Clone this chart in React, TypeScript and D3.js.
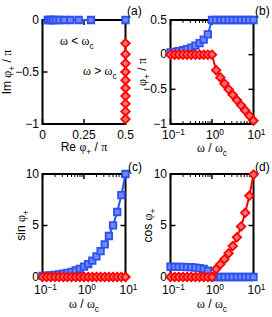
import { useEffect, useRef } from "react";
import * as d3 from "d3";

// sampled frequencies  omega / omega_c (10 per decade)
const omega = [0.1, 0.126, 0.158, 0.2, 0.251, 0.316, 0.398, 0.501, 0.631, 0.794, 1,
  1.259, 1.585, 1.995, 2.512, 3.162, 3.981, 5.012, 6.31, 7.943, 10];

// phi_+ / pi
const rePhi = [0.032, 0.04, 0.051, 0.064, 0.081, 0.102, 0.13, 0.167, 0.218, 0.292, 0.5,
  0.5, 0.5, 0.5, 0.5, 0.5, 0.5, 0.5, 0.5, 0.5, 0.5];
const imPhi = [0, 0, 0, 0, 0, 0, 0, 0, 0, 0, 0,
  -0.224, -0.329, -0.418, -0.5, -0.579, -0.655, -0.731, -0.805, -0.879, -0.953];

// sin phi_+
const reSin = [0.1, 0.126, 0.158, 0.2, 0.251, 0.316, 0.398, 0.501, 0.631, 0.794, 1,
  1.259, 1.585, 1.995, 2.512, 3.162, 3.981, 5.012, 6.31, 7.943, 10];
const imSin = [0, 0, 0, 0, 0, 0, 0, 0, 0, 0, 0, 0, 0, 0, 0, 0, 0, 0, 0, 0, 0];

// cos phi_+
const reCos = [0.995, 0.992, 0.987, 0.98, 0.968, 0.949, 0.917, 0.865, 0.776, 0.608, 0,
  0, 0, 0, 0, 0, 0, 0, 0, 0, 0];
const imCos = [0, 0, 0, 0, 0, 0, 0, 0, 0, 0, 0,
  0.765, 1.23, 1.727, 2.304, 3.0, 3.854, 4.911, 6.23, 7.88, 9.95];

const reTicks = [0, 0.25, 0.5];
const reTickLabels = ["0", "0.25", "0.5"];
const imTicks = [-1, -0.5, 0];
const imTickLabels = ["\u22121", "\u22120.5", "0"];
const phiTicks = [-1, -0.5, 0, 0.5];
const phiTickLabels = ["\u22121", "\u22120.5", "0", "0.5"];
const trigTicks = [0, 5, 10];
const trigTickLabels = ["0", "5", "10"];
const decades = [0.1, 1, 10];
const decadeExps = ["\u22121", "0", "1"];
const minorLog = [0.2, 0.3, 0.4, 0.5, 0.6, 0.7, 0.8, 0.9, 2, 3, 4, 5, 6, 7, 8, 9];

const SANS = "'Liberation Sans', Arial, sans-serif";
const SERIF = "'Liberation Serif', 'Times New Roman', serif";
const BLUE = "#2d50f2";
const RED = "#ff0000";

type Part = { t: string; g?: boolean; sub?: boolean; sup?: boolean };

function addText(sel: any, parts: Part[], x: number, y: number, size: number, anchor = "middle", rotate = false) {
  const t = sel.append("text")
    .attr("font-size", size)
    .attr("font-family", SANS)
    .attr("text-anchor", anchor)
    .attr("fill", "#000");
  if (rotate) t.attr("transform", `translate(${x},${y}) rotate(-90)`);
  else t.attr("x", x).attr("y", y);
  let shift = 0;
  parts.forEach((p) => {
    const target = p.sub ? size * 0.35 : p.sup ? -size * 0.3 : 0;
    const ts = t.append("tspan").attr("dy", target - shift).text(p.t);
    shift = target;
    if (p.g) ts.attr("font-family", SERIF);
    if (p.sub || p.sup) ts.attr("font-size", size * 0.7);
  });
  return t;
}

const omegaTitle: Part[] = [{ t: "\u03c9", g: true }, { t: " / " }, { t: "\u03c9", g: true }, { t: "c", sub: true }];

const App = () => {
  const ref = useRef<SVGSVGElement>(null);

  useEffect(() => {
    const svg = d3.select(ref.current);
    svg.selectAll("*").remove();

    const panels = [
      {
        x0: 42.5, x1: 125.5, y0: 20, y1: 124, log: false, labOff: 14.5, titleOff: 27,
        xDomain: [0, 0.5], yDomain: [-1, 0],
        yTicks: imTicks, yLabels: imTickLabels,
        series: [
          { xs: rePhi.slice(0, 10), ys: imPhi.slice(0, 10), color: BLUE, shape: "square", extra: [[rePhi[10], imPhi[10]]] },
          { xs: rePhi.slice(11), ys: imPhi.slice(11), color: RED, shape: "diamond", extra: [] },
        ],
        xTitle: [{ t: "Re " }, { t: "\u03c6", g: true }, { t: "+", sub: true }, { t: " / " }, { t: "\u03c0", g: true }] as Part[],
        yTitle: [{ t: "Im " }, { t: "\u03c6", g: true }, { t: "+", sub: true }, { t: " / " }, { t: "\u03c0", g: true }] as Part[],
        yTitleX: 11, tag: "(a)", tagX: 127, tagY: 15,
      },
      {
        x0: 170.5, x1: 253.5, y0: 20, y1: 124, log: true, labOff: 14.5, titleOff: 28,
        xDomain: [0.1, 10], yDomain: [-1, 0.5],
        yTicks: phiTicks, yLabels: phiTickLabels,
        series: [
          { xs: omega, ys: rePhi, color: BLUE, shape: "square", extra: [] },
          { xs: omega, ys: imPhi, color: RED, shape: "diamond", extra: [] },
        ],
        xTitle: omegaTitle,
        yTitle: [{ t: "\u03c6", g: true }, { t: "+", sub: true }, { t: " / " }, { t: "\u03c0", g: true }] as Part[],
        yTitleX: 146, tag: "(b)", tagX: 255, tagY: 15,
      },
      {
        x0: 42.5, x1: 125.5, y0: 174, y1: 277, log: true, labOff: 17, titleOff: 30.5,
        xDomain: [0.1, 10], yDomain: [0, 10],
        yTicks: trigTicks, yLabels: trigTickLabels,
        series: [
          { xs: omega, ys: reSin, color: BLUE, shape: "square", extra: [] },
          { xs: omega, ys: imSin, color: RED, shape: "diamond", extra: [] },
        ],
        xTitle: omegaTitle,
        yTitle: [{ t: "sin " }, { t: "\u03c6", g: true }, { t: "+", sub: true }] as Part[],
        yTitleX: 25, tag: "(c)", tagX: 128, tagY: 171,
      },
      {
        x0: 170.5, x1: 253.5, y0: 174, y1: 277, log: true, labOff: 17, titleOff: 30.5,
        xDomain: [0.1, 10], yDomain: [0, 10],
        yTicks: trigTicks, yLabels: trigTickLabels,
        series: [
          { xs: omega, ys: reCos, color: BLUE, shape: "square", extra: [] },
          { xs: omega, ys: imCos, color: RED, shape: "diamond", extra: [] },
        ],
        xTitle: omegaTitle,
        yTitle: [{ t: "cos " }, { t: "\u03c6", g: true }, { t: "+", sub: true }] as Part[],
        yTitleX: 152, tag: "(d)", tagX: 255, tagY: 171,
      },
    ];

    panels.forEach((p) => {
      const g = svg.append("g");
      const x: any = p.log
        ? d3.scaleLog().domain(p.xDomain).range([p.x0, p.x1])
        : d3.scaleLinear().domain(p.xDomain).range([p.x0, p.x1]);
      const y = d3.scaleLinear().domain(p.yDomain).range([p.y1, p.y0]);

      // frame
      g.append("rect")
        .attr("x", p.x0).attr("y", p.y0)
        .attr("width", p.x1 - p.x0).attr("height", p.y1 - p.y0)
        .attr("fill", "none").attr("stroke", "#000").attr("stroke-width", 2);

      const tick = (x1: number, y1: number, x2: number, y2: number, w = 1.5) =>
        g.append("line").attr("x1", x1).attr("y1", y1).attr("x2", x2).attr("y2", y2)
          .attr("stroke", "#000").attr("stroke-width", w);

      // y ticks, both sides
      p.yTicks.forEach((v, i) => {
        tick(p.x0, y(v), p.x0 + 5, y(v));
        tick(p.x1, y(v), p.x1 - 5, y(v));
        addText(g, [{ t: p.yLabels[i] }], p.x0 - 3.5, y(v) + 3.5, 12, "end");
      });

      // x ticks, top and bottom
      const bottomY = p.y1 + p.labOff;
      if (p.log) {
        minorLog.forEach((v) => {
          tick(x(v), p.y1, x(v), p.y1 - 3, 1);
          tick(x(v), p.y0, x(v), p.y0 + 3, 1);
        });
        decades.forEach((v, i) => {
          tick(x(v), p.y1, x(v), p.y1 - 5);
          tick(x(v), p.y0, x(v), p.y0 + 5);
          addText(g, [{ t: "10" }, { t: decadeExps[i], sup: true }], x(v) + 3, bottomY, 12, "middle");
        });
      } else {
        reTicks.forEach((v, i) => {
          tick(x(v), p.y1, x(v), p.y1 - 5);
          tick(x(v), p.y0, x(v), p.y0 + 5);
          addText(g, [{ t: reTickLabels[i] }], x(v), bottomY, 12, "middle");
        });
      }

      // series
      p.series.forEach((s) => {
        const pts = s.xs.map((v, i) => [v, s.ys[i]]);
        const line = d3.line<number[]>().x((d) => x(d[0])).y((d) => y(d[1]));
        g.append("path").attr("d", line(pts) as string)
          .attr("fill", "none").attr("stroke", s.color).attr("stroke-width", 2);
        const all = pts.concat(s.extra as number[][]);
        const sym = s.shape === "square"
          ? d3.symbol().type(d3.symbolSquare).size(42)
          : d3.symbol().type(d3.symbolDiamond2).size(46);
        g.selectAll(null).data(all).enter().append("path")
          .attr("d", sym() as string)
          .attr("transform", (d) => `translate(${x(d[0])},${y(d[1])})`)
          .attr("fill", s.shape === "square" ? "#6f88f6" : "#ff7070")
          .attr("stroke", s.color).attr("stroke-width", 1.8);
      });

      // titles
      addText(g, p.xTitle, (p.x0 + p.x1) / 2, p.y1 + p.titleOff, 12, "middle");
      addText(g, p.yTitle, p.yTitleX, (p.y0 + p.y1) / 2, 12, "middle", true);
      addText(g, [{ t: p.tag }], p.tagX, p.tagY, 12, "start");
    });

    // region annotations in (a)
    addText(svg, [{ t: "\u03c9", g: true }, { t: " < " }, { t: "\u03c9", g: true }, { t: "c", sub: true }], 60, 45, 12, "start");
    addText(svg, [{ t: "\u03c9", g: true }, { t: " > " }, { t: "\u03c9", g: true }, { t: "c", sub: true }], 83, 75, 12, "start");
  }, []);

  return (
    <svg ref={ref} width={272} height={317}
      style={{ position: "absolute", left: 0, top: 0, background: "#fff" }} />
  );
};

export default App;
